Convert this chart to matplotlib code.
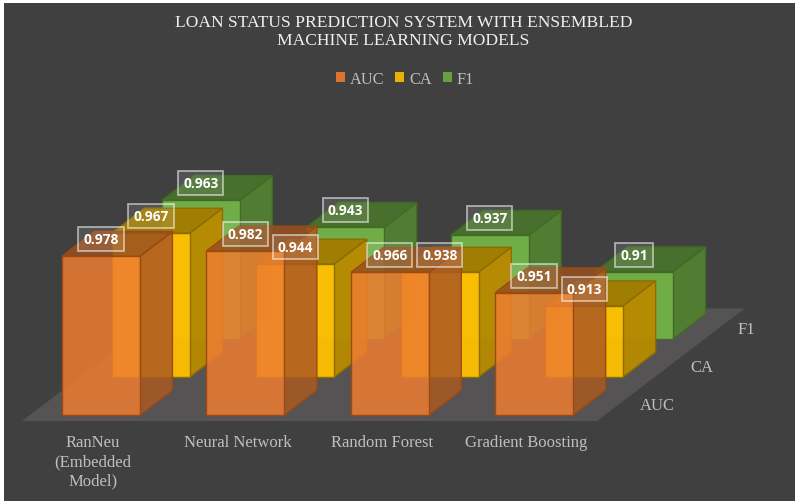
import matplotlib
matplotlib.use("Agg")
import matplotlib.pyplot as plt
from matplotlib.patches import Polygon, Patch
from matplotlib.colors import to_rgb

# Model scores
models = ["RanNeu\n(Embedded\nModel)", "Neural Network", "Random Forest", "Gradient Boosting"]
metrics = ["AUC", "CA", "F1"]
auc_scores = [0.978, 0.982, 0.966, 0.951]
ca_scores = [0.967, 0.944, 0.938, 0.913]
f1_scores = [0.963, 0.943, 0.937, 0.91]
score_labels = {"AUC": ["0.978", "0.982", "0.966", "0.951"],
                "CA": ["0.967", "0.944", "0.938", "0.913"],
                "F1": ["0.963", "0.943", "0.937", "0.91"]}
series = {"AUC": auc_scores, "CA": ca_scores, "F1": f1_scores}
colors = {"AUC": "#ED7D31", "CA": "#FFC000", "F1": "#70AD47"}
alphas = {"AUC": 0.85, "CA": 0.95, "F1": 1.0}
edges = {"AUC": "#9C4A12", "CA": "#8F6C00", "F1": "#3F6B24"}

BG = "#404040"
BASE = 0.86            # value at the floor of the value axis
BAR_W = 0.54           # bar width in category units
ROW_DX, ROW_DY = 0.346, 0.0283   # shift per metric row
DEPTH = 0.65           # bar depth as a share of the row shift

fig = plt.figure(figsize=(7.95, 5.02), dpi=100, facecolor="white")
ax = fig.add_axes([4 / 795, 0, 1 - 4 / 795, 1 - 4 / 502])
ax.set_facecolor(BG)
ax.set_xlim(-58 / 144.4, (791 - 58) / 144.4)
ax.set_ylim(BASE - 86 / 1345, BASE + 412 / 1345)
ax.set_xticks([])
ax.set_yticks([])
for s in ax.spines.values():
    s.set_visible(False)


def shade(c, f):
    return tuple(v * f for v in to_rgb(c))


def pt(x, row, v):
    """Oblique projection of (category x, metric row, value) onto the axes."""
    return (x + ROW_DX * row, v + ROW_DY * row)


# Floor of the chart
floor = [pt(-0.222, -0.16, BASE), pt(3.76, -0.16, BASE), pt(3.76, 2.8, BASE), pt(-0.222, 2.8, BASE)]
ax.add_patch(Polygon(floor, closed=True, fc="#555354", ec="none", zorder=1))

# Bars drawn from the back row forward
z = 2
for row in range(len(metrics) - 1, -1, -1):
    m = metrics[row]
    col, a, e = colors[m], alphas[m], edges[m]
    for i, val in enumerate(series[m]):
        x0, x1 = i, i + BAR_W
        r0, r1 = row, row + DEPTH
        side = [pt(x1, r0, BASE), pt(x1, r1, BASE), pt(x1, r1, val), pt(x1, r0, val)]
        top = [pt(x0, r0, val), pt(x1, r0, val), pt(x1, r1, val), pt(x0, r1, val)]
        front = [pt(x0, r0, BASE), pt(x1, r0, BASE), pt(x1, r0, val), pt(x0, r0, val)]
        for poly, f in ((side, 0.72), (top, 0.64), (front, 1.0)):
            ax.add_patch(Polygon(poly, closed=True, fc=shade(col, f) + (a,), ec=e, lw=1.0,
                                 joinstyle="miter", zorder=z))
            z += 1

# Value labels sit above each bar's front face
for row in range(len(metrics) - 1, -1, -1):
    m = metrics[row]
    for i, val in enumerate(series[m]):
        lx, ly = pt(i + BAR_W / 2, row, val)
        ax.text(lx, ly + 17 / 1345, score_labels[m][i], ha="center", va="center",
                color="white", family="Open Sans", fontweight="bold", fontsize=9.9, zorder=200 + z,
                bbox=dict(boxstyle="square,pad=0.36", fc=(1, 1, 1, 0.1), ec=(1, 1, 1, 0.55), lw=1.3))

# Category labels under the floor
for i, name in enumerate(models):
    lx = i + 0.215
    ax.text(lx, BASE - 19 / 1345, name, ha="center", va="top", color="#BFBFBF",
            family="Liberation Serif", fontsize=12, linespacing=1.25, zorder=500)

# Metric labels along the right edge of the floor
for row, m in enumerate(metrics):
    x, y = pt(4.12 - 0.035 * row, row, BASE)
    ax.text(x, y + 10 / 1345, m, ha="center", va="center", color="#BFBFBF",
            family="Liberation Serif", fontsize=12, zorder=500)

fig.text(403.5 / 795, 1 - 32 / 502, "LOAN STATUS PREDICTION SYSTEM WITH ENSEMBLED\nMACHINE LEARNING MODELS",
         ha="center", va="center", color="#F0F0F0", family="Liberation Serif", fontsize=12.6, linespacing=1.2)

handles = [Patch(fc=shade(colors[m], 0.92), ec="none", label=m) for m in metrics]
ax.legend(handles=handles, ncols=3, loc="center", bbox_to_anchor=(405 / 795, 1 - 79.5 / 502),
          bbox_transform=fig.transFigure, frameon=False, handlelength=0.55, handleheight=0.55,
          handletextpad=0.3, columnspacing=0.65, labelcolor="#BFBFBF",
          prop={"family": "Liberation Serif", "size": 11.8})

fig.savefig("out.png", dpi=100, facecolor="white")
